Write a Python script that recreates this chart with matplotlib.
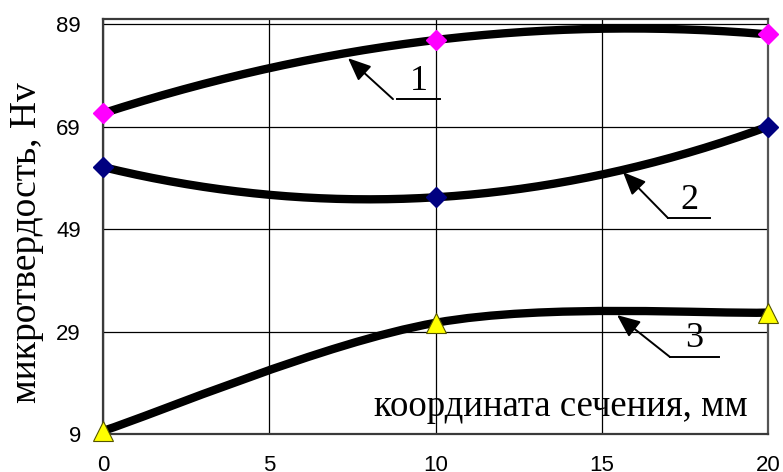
import numpy as np
import matplotlib
matplotlib.use("Agg")
import matplotlib.pyplot as plt
from matplotlib.path import Path
from matplotlib.patches import PathPatch

# ---- data ----
x_vals = [0, 10, 20]
s1 = [71.6, 85.9, 87.0]   # curve 1 (magenta diamonds)
s2 = [61.1, 55.2, 69.0]   # curve 2 (navy diamonds)
s3 = [9.6, 30.7, 32.7]    # curve 3 (yellow triangles)
x_ticks = [0, 5, 10, 15, 20]
y_ticks = [9, 29, 49, 69, 89]
curve_labels = ["1", "2", "3"]
x_label = "координата сечения, мм"
y_label = "микротвердость, Hv"

plt.rcParams["font.family"] = ["Liberation Sans", "DejaVu Sans"]

fig = plt.figure(figsize=(7.83, 4.72), dpi=100)
ax = fig.add_axes([103/783, 1-434/472, (768-103)/783, (434-19)/472])
ax.set_xlim(0, 20)
ax.set_ylim(9, 90)

# grid
ax.set_xticks(x_ticks, labels=[str(v) for v in x_ticks], fontsize=16,
              fontfamily="Liberation Sans")
ax.set_yticks(y_ticks, labels=[str(v) for v in y_ticks], fontsize=16,
              fontfamily="Liberation Sans")
ax.grid(True, color="black", lw=0.9)
ax.set_axisbelow(True)
for sp in ax.spines.values():
    sp.set_color("#3a3a3a")
    sp.set_linewidth(1.6)
ax.spines["right"].set_color("#555555")
ax.tick_params(axis="x", length=0, pad=15)
ax.tick_params(axis="y", length=0, pad=16)

xs = np.array(x_vals, float)

# curves 1 and 2: second order polynomial trend lines
xx = np.linspace(0, 20, 200)
for ys in (s1, s2):
    c = np.polyfit(xs, np.array(ys, float), 2)
    ax.plot(xx, np.polyval(c, xx), color="black", lw=6, solid_capstyle="butt", zorder=3)

# curve 3: smoothed line (Bezier, Excel-like)
def smooth_path(xv, yv):
    P = np.column_stack([xv, yv]).astype(float)
    n = len(P)
    verts = [P[0]]
    codes = [Path.MOVETO]
    for i in range(n - 1):
        pm = P[i - 1] if i > 0 else P[i]
        pp = P[i + 2] if i + 2 < n else P[i + 1]
        c1 = P[i] + (P[i + 1] - pm) / 6
        c2 = P[i + 1] - (pp - P[i]) / 6
        verts += [c1, c2, P[i + 1]]
        codes += [Path.CURVE4] * 3
    return Path(verts, codes)

ax.add_patch(PathPatch(smooth_path(xs, s3), fill=False, edgecolor="black",
                       lw=6, capstyle="butt", zorder=3))

# markers
ax.plot(xs, s1, ls="none", marker="D", ms=10, mfc="#FF00FF", mec="#FF00FF", zorder=4, clip_on=False)
ax.plot(xs, s2, ls="none", marker="D", ms=10, mfc="#000080", mec="#000080", zorder=4, clip_on=False)
ax.plot(xs, s3, ls="none", marker="^", ms=15, mfc="#FFFF00", mec="#555500", mew=0.8, zorder=4, clip_on=False)

# arrows with labels
def px2d(px, py):
    return ((px - 103) / 33.25, 9 + (434 - py) / 5.125)

arrows = [
    ((348, 58), (393, 99), (397, 440)),
    ((623, 172), (668, 218), (668, 710)),
    ((617, 315), (670, 357), (670, 719)),
]
for lab, (tip, tail, ul) in zip(curve_labels, arrows):
    tx, ty = px2d(*tip)
    sx, sy = px2d(*tail)
    ax.annotate("", xy=(tx, ty), xytext=(sx, sy),
                arrowprops=dict(arrowstyle="-|>,head_length=0.7,head_width=0.3",
                                color="black", lw=1.4, shrinkA=0, shrinkB=0,
                                mutation_scale=20), zorder=5)
    x0, _ = px2d(ul[0], tail[1])
    x1, _ = px2d(ul[1], tail[1])
    ax.plot([x0, x1], [sy, sy], color="black", lw=1.4, zorder=5)
    ax.text((x0 + x1) / 2, sy + 0.3, lab, ha="center", va="bottom",
            fontsize=26, fontfamily="Liberation Serif", zorder=5)

# axis labels
xl_x, xl_y = px2d(748, 416)
ax.text(xl_x, xl_y, x_label, ha="right", va="baseline", fontsize=26.5,
        fontfamily="Liberation Serif", zorder=6)
fig.text(27/783, 1-243/472, y_label, rotation=90, ha="center", va="center",
         fontsize=27, fontfamily="Liberation Serif")

fig.savefig("out.png", dpi=100)
